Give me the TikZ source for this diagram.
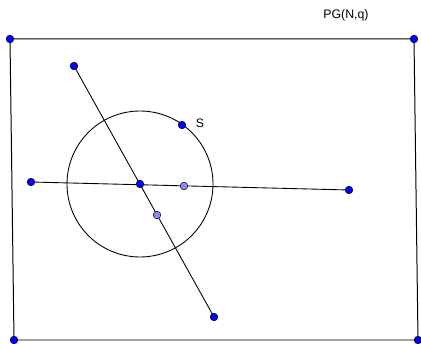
\documentclass[tikz,border=0pt]{standalone}
\usepackage{fontspec}
\setmainfont{Liberation Sans}
\usetikzlibrary{calc}
\definecolor{punkt}{HTML}{0000FF}
\definecolor{punkth}{HTML}{8888F6}
\tikzset{
  pkt/.style={circle,fill=punkt,draw=black,line width=0.4pt,inner sep=0pt,minimum size=2.3mm},
  pkth/.style={pkt,fill=punkth},
  strecke/.style={black,line width=0.75pt},
  rahmen/.style={black,line width=0.85pt},
  etikett/.style={font=\fontsize{10.5}{12}\selectfont,inner sep=0pt},
}
\begin{document}
\begin{tikzpicture}[x=0.03cm,y=-0.03cm]
  \useasboundingbox (0,0) rectangle (421,344);
  % Ecken
  \coordinate (A) at (10,39);
  \coordinate (B) at (414,39);
  \coordinate (C) at (418,340);
  \coordinate (D) at (14,340);
  % Geraden und Kreis
  \coordinate (P1) at (74,66);
  \coordinate (P2) at (214,317);
  \coordinate (Q1) at (31,182);
  \coordinate (Q2) at (349,190);
  \coordinate (M) at (140,184);
  \coordinate (S) at (182,125);
  \coordinate (H1) at (184,186);
  \coordinate (H2) at (157,215);
  % Rahmen
  \draw[rahmen] (A)--(B)--(C)--(D)--cycle;
  % Strecken
  \draw[strecke] (P1)--(P2);
  \draw[strecke] (Q1)--(Q2);
  \draw[strecke] (M) circle (73);
  % Punkte
  \foreach \p in {A,B,C,D,P1,P2,Q1,Q2,M,S}
    \node[pkt] (n\p) at (\p) {};
  \foreach \p in {H1,H2}
    \node[pkth] (n\p) at (\p) {};
  % Beschriftung
  \node[etikett] (lS) at (200,123) {S};
  \node[etikett] (lPG) at (346,15) {PG(N,q)};
\end{tikzpicture}
\end{document}
